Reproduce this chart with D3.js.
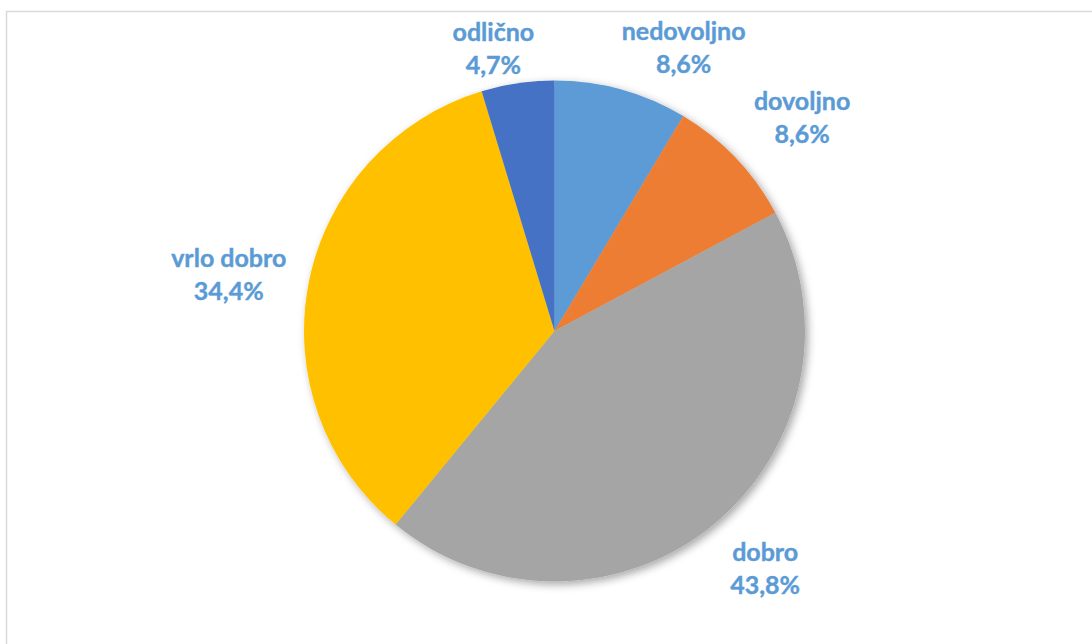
<!DOCTYPE html>
<html>
<head>
<meta charset="utf-8">
<script src="https://cdn.jsdelivr.net/npm/d3@7"></script>
<style>
  html, body { margin: 0; padding: 0; background: #fff; }
  svg { display: block; }
  .slice-label { font-family: Lato, "Open Sans", sans-serif; font-weight: bold; font-size: 25px; fill: #5B9BD5; stroke: #5B9BD5; stroke-width: 0.4px; }
</style>
</head>
<body>
<svg id="chart"></svg>
<script>
// grades and their share (%) as printed on the chart
var grades = ['nedovoljno', 'dovoljno', 'dobro', 'vrlo dobro', 'odlično'];
var shares = [8.6, 8.6, 43.8, 34.4, 4.7];
var colors = ['#5B9BD5', '#ED7D31', '#A5A5A5', '#FFC000', '#4472C4'];

var width = 1092, height = 644;
var cx = 554.5, cy = 331, radius = 250.5;

// best-fit label nudges, relative to the outer centroid
var labelNudge = [[49, 8], [30, -5], [20, 7], [-31, 4], [-17, 16]];

var svg = d3.select('#chart')
  .attr('width', width)
  .attr('height', height);

var defs = svg.append('defs');
var shadow = defs.append('filter')
  .attr('id', 'shadow')
  .attr('x', '-20%').attr('y', '-20%')
  .attr('width', '140%').attr('height', '140%');
shadow.append('feDropShadow')
  .attr('dx', 3)
  .attr('dy', 3)
  .attr('stdDeviation', 4)
  .attr('flood-color', '#000')
  .attr('flood-opacity', 0.35);

// chart area border (runs off the right and bottom edge)
svg.append('rect')
  .attr('x', 6.5)
  .attr('y', 11.5)
  .attr('width', 1100)
  .attr('height', 660)
  .attr('fill', 'none')
  .attr('stroke', '#D9D9D9')
  .attr('stroke-width', 1.5);

var data = grades.map(function(g, i){
  return { grade: g, share: shares[i], color: colors[i], nudge: labelNudge[i] };
});

var pie = d3.pie()
  .sort(null)
  .value(function(d){ return d.share; });

var arc = d3.arc()
  .innerRadius(0)
  .outerRadius(radius);

var labelArc = d3.arc()
  .innerRadius(radius + 50)
  .outerRadius(radius + 50);

var arcs = pie(data);

var g = svg.append('g')
  .attr('transform', 'translate(' + cx + ',' + cy + ')');

g.append('g')
  .attr('filter', 'url(#shadow)')
  .selectAll('path')
  .data(arcs)
  .enter()
  .append('path')
  .attr('d', arc)
  .attr('fill', function(d){ return d.data.color; });

var fmt = function(v){ return v.toFixed(1).replace('.', ',') + '%'; };

var labels = g.selectAll('.slice-label')
  .data(arcs)
  .enter()
  .append('text')
  .attr('class', 'slice-label')
  .attr('text-anchor', 'middle')
  .attr('transform', function(d){
    var c = labelArc.centroid(d);
    return 'translate(' + (c[0] + d.data.nudge[0]) + ',' + (c[1] + d.data.nudge[1]) + ')';
  });

labels.append('tspan')
  .attr('x', 0)
  .attr('y', -9)
  .text(function(d){ return d.data.grade; });

labels.append('tspan')
  .attr('x', 0)
  .attr('y', 24)
  .text(function(d){ return fmt(d.data.share); });
</script>
</body>
</html>
